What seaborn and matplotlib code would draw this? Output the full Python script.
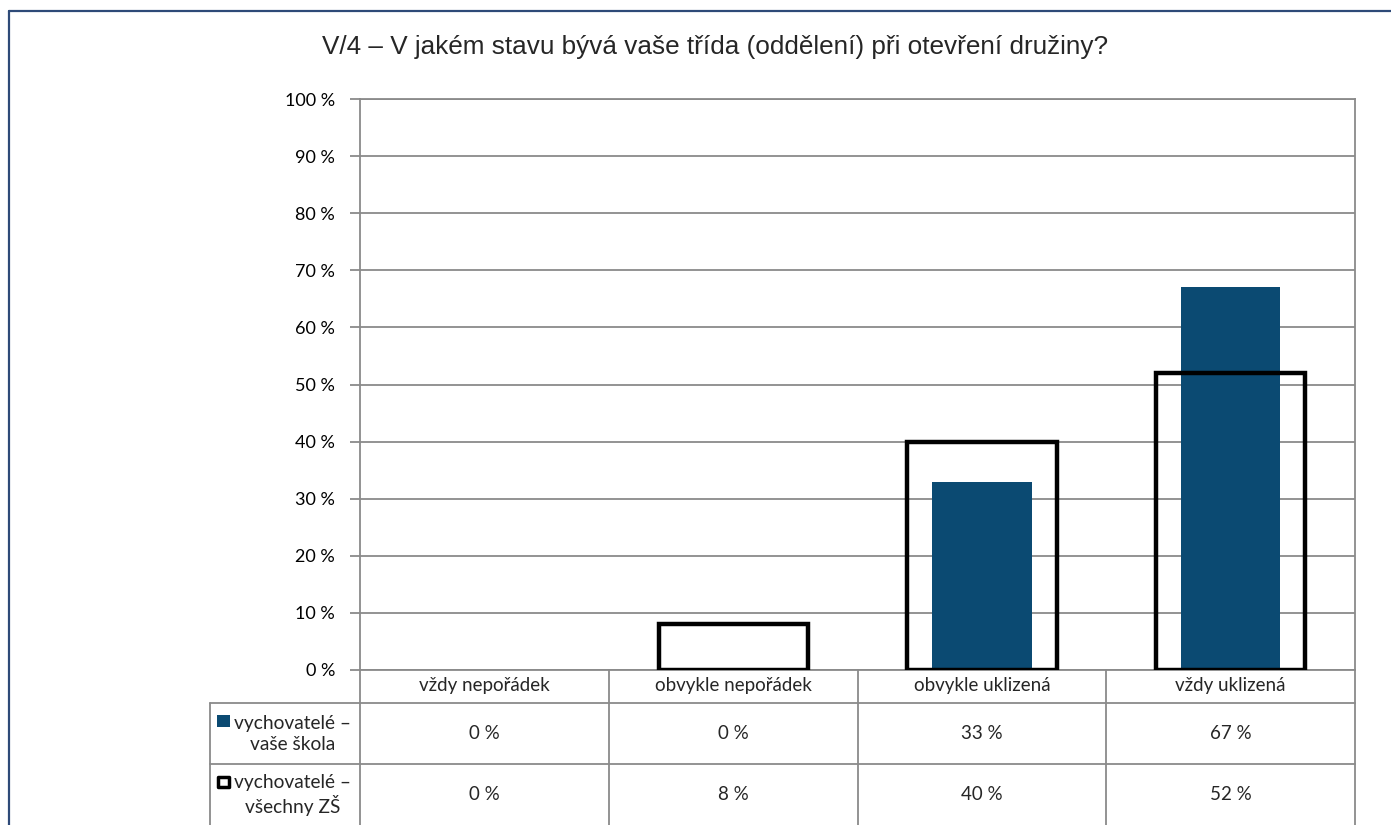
import pandas as pd
import seaborn as sns
import matplotlib.pyplot as plt
from matplotlib.lines import Line2D
from matplotlib.patches import Rectangle
from matplotlib.transforms import blended_transform_factory

# data
kategorie = ['vždy nepořádek', 'obvykle nepořádek', 'obvykle uklizená', 'vždy uklizená']
vase_skola = [0, 0, 33, 67]
vsechny_zs = [0, 8, 40, 52]
serie = ['vychovatelé –\nvaše škola', 'vychovatelé –\nvšechny ZŠ']
titulek = 'V/4 – V jakém stavu bývá vaše třída (oddělení) při otevření družiny?'
y_ticks = list(range(0, 101, 10))

W, H = 1391, 825
BLUE = '#0B4A72'
GRAY = '#8A8A8A'
FS = 13.5

sns.set_theme(style='white')
plt.rcParams['font.family'] = ['Lato', 'DejaVu Sans']

fig = plt.figure(figsize=(W / 100, H / 100), dpi=100)

def fx(x):
    return x / W

def fy(y):
    return 1 - y / H

# plot area in pixels
L, R, T, B = 360, 1355, 99, 670
ax = fig.add_axes([fx(L), fy(B), (R - L) / W, (B - T) / H])

df = pd.DataFrame({'kategorie': kategorie, 'vase': vase_skola, 'vsechny': vsechny_zs})

sns.barplot(data=df, x='kategorie', y='vase', order=kategorie, color=BLUE,
            saturation=1, width=0.4, ax=ax, zorder=2)
n_fill = len(ax.patches)
sns.barplot(data=df, x='kategorie', y='vsechny', order=kategorie, color='black',
            fill=False, linewidth=3.2, width=0.6, ax=ax, zorder=3)
for i, p in enumerate(ax.patches):
    if i < n_fill:
        p.set_edgecolor('none')
    p.set_joinstyle('miter')
    if p.get_height() == 0:
        p.set_visible(False)

ax.set_ylim(0, 100)
ax.set_xlim(-0.5, len(kategorie) - 0.5)
ax.set_yticks(y_ticks)
ax.set_yticklabels([f'{t} %' for t in y_ticks])
ax.set_xticks([])
ax.set_xlabel('')
ax.set_ylabel('')
ax.yaxis.grid(True, color=GRAY, linewidth=1.3)
ax.set_axisbelow(True)
ax.tick_params(axis='y', left=True, length=7, width=1.3, color=GRAY, pad=11,
               labelsize=13, labelcolor='black')
for s in ax.spines.values():
    s.set_color(GRAY)
    s.set_linewidth(1.3)

# title
fig.text(fx(715), fy(47), titulek, ha='center', va='center', fontsize=18.8,
         family=['Liberation Sans', 'DejaVu Sans'])

# data table under the axis
tr = blended_transform_factory(ax.transData, fig.transFigure)
n = len(kategorie)
for xb in [i - 0.5 for i in range(n + 1)]:
    fig.add_artist(Line2D([xb, xb], [0, fy(B)], transform=tr, color=GRAY, lw=1.3))
for yb in [703, 764]:
    fig.add_artist(Line2D([fx(210), fx(R)], [fy(yb), fy(yb)], transform=fig.transFigure,
                          color=GRAY, lw=1.3))
fig.add_artist(Line2D([fx(210), fx(210)], [0, fy(703)], transform=fig.transFigure,
                      color=GRAY, lw=1.3))

for i, k in enumerate(kategorie):
    fig.text(i, fy(686), k, transform=tr, ha='center', va='center', fontsize=FS)

rows = [(vase_skola, 733.5), (vsechny_zs, 794)]
for (vals, yc) in rows:
    for i, v in enumerate(vals):
        fig.text(i, fy(yc), f'{v} %', transform=tr, ha='center', va='center', fontsize=FS)

# row labels with legend keys
fig.text(fx(293), fy(734), serie[0], ha='center', va='center', fontsize=FS + 0.3,
         linespacing=1.25)
fig.text(fx(293), fy(795), serie[1], ha='center', va='center', fontsize=FS + 0.3,
         linespacing=1.25)
fig.add_artist(Rectangle((fx(217), fy(727)), 13 / W, 12 / H, transform=fig.transFigure,
                         facecolor=BLUE, edgecolor='none'))
fig.add_artist(Rectangle((fx(218), fy(787)), 11 / W, 10 / H, transform=fig.transFigure,
                         facecolor='white', edgecolor='black', lw=2.5, joinstyle='round'))

# outer frame
FRAME = '#2E4A78'
fig.add_artist(Line2D([fx(9), 1], [fy(11), fy(11)], transform=fig.transFigure, color=FRAME, lw=1.6))
fig.add_artist(Line2D([fx(9), fx(9)], [fy(11), 0], transform=fig.transFigure, color=FRAME, lw=1.6))

fig.savefig('out.png', dpi=100)
